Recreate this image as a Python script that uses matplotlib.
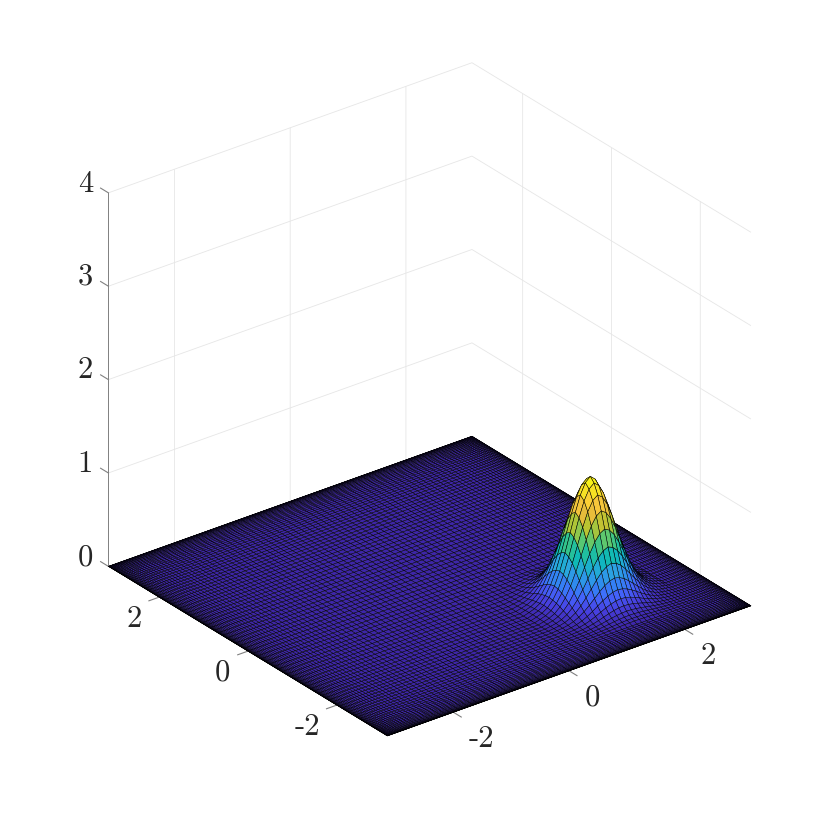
from matplotlib import pyplot as plt
from matplotlib.colors import LinearSegmentedColormap
from mpl_toolkits.mplot3d import proj3d
import numpy as np

# bump sections, one mesh node each, low index to high index
section_x = [0.018, 0.039, 0.077, 0.143, 0.243, 0.383, 0.559, 0.756, 0.953, 1.120, 1.232,
             1.28,
             1.233, 1.130, 0.982, 0.810, 0.641, 0.487, 0.350, 0.246, 0.168, 0.111, 0.072,
             0.046, 0.029, 0.018]
section_y = [0.018, 0.029, 0.046, 0.072, 0.111, 0.168, 0.246, 0.350, 0.487, 0.641, 0.810,
             0.982, 1.130, 1.233,
             1.28,
             1.232, 1.120, 0.953, 0.756, 0.559, 0.383, 0.243, 0.143, 0.077, 0.039, 0.018]
peak_value = 1.28
first_ix = 57
first_iy = 20
n_cells = 102

x_ticks = [-2, 0, 2]
y_ticks = [-2, 0, 2]
z_ticks = [0, 1, 2, 3, 4]
x_labels = ['-2', '0', '2']
y_labels = ['-2', '0', '2']
z_labels = ['0', '1', '2', '3', '4']

parula_colors = ['#3e26a8', '#4740e0', '#4367fd', '#2f89f0', '#2ba5e0', '#0cb8ba', '#2ec38f',
                 '#74c95f', '#b8c431', '#e6bc3a', '#fcc93b', '#f6e620', '#f9fb15']
parula = LinearSegmentedColormap.from_list('parula', parula_colors)

# Chebyshev nodes, the mesh gets dense at the edges
x = -np.pi * np.cos(np.pi * np.arange(n_cells + 1) / n_cells)
y = -np.pi * np.cos(np.pi * np.arange(n_cells + 1) / n_cells)
X, Y = np.meshgrid(x, y)

Z = np.zeros((n_cells + 1, n_cells + 1))
Z[first_iy:first_iy + len(section_y), first_ix:first_ix + len(section_x)] = np.outer(section_y, section_x) / peak_value

fig = plt.figure(figsize=(8.3, 8.27), dpi=100)
ax = fig.add_axes([3.5 / 830, 3 / 827, 1, 1], projection='3d', proj_type='ortho')
ax.view_init(elev=27.8, azim=-127.5)
ax.set_box_aspect((458, 458, 422), zoom=0.908)

ax.plot_surface(X, Y, Z, rstride=1, cstride=1, cmap=parula, vmin=0, vmax=peak_value,
                edgecolor='k', linewidth=0.35, antialiased=True, shade=False)

ax.set_xlim(-np.pi, np.pi, view_margin=0)
ax.set_ylim(-np.pi, np.pi, view_margin=0)
ax.set_zlim(0, 4, view_margin=0)

ax.set_xticks(x_ticks)
ax.set_yticks(y_ticks)
ax.set_zticks(z_ticks)
ax.set_xticklabels([])
ax.set_yticklabels([])
ax.set_zticklabels([])

for axis in [ax.xaxis, ax.yaxis, ax.zaxis]:
    axis.set_pane_color((1, 1, 1, 0))
    axis.pane.set_edgecolor((1, 1, 1, 0))
    axis._axinfo['grid'].update(color='#e6e6e6', linewidth=0.6)
    axis.set_tick_params(color='#808080', width=0.6)
ax.xaxis._axinfo['tick'].update(inward_factor=0.35, outward_factor=0)
ax.yaxis._axinfo['tick'].update(inward_factor=0.35, outward_factor=0)
# z ticks point along y in the reference
ax.zaxis._get_tickdir = lambda pos: 1
ax.zaxis._axinfo['tick'].update(inward_factor=0, outward_factor=0.35)
ax.xaxis.line.set_color((1, 1, 1, 0))
ax.yaxis.line.set_color((1, 1, 1, 0))
ax.zaxis.line.set_color('#808080')
ax.zaxis.line.set_linewidth(0.7)


# tick labels sit further out than mplot3d puts them, so offset them from the tick in pixels
def put_label(text, px, py, pz, dx, dy):
    x2, y2, _ = proj3d.proj_transform(px, py, pz, ax.get_proj())
    ax.annotate(text, xy=(x2, y2), xytext=(dx, dy), textcoords='offset pixels', annotation_clip=False,
                ha='center', va='center', family='cmr10', size=22, color='#262626')


for t, s in zip(x_ticks, x_labels):
    put_label(s, t, -np.pi, 0, 28 if s.startswith('-') else 23, -27)
for t, s in zip(y_ticks, y_labels):
    put_label(s, -np.pi, t, 0, -29 if s.startswith('-') else -25, -22)
for t, s in zip(z_ticks, z_labels):
    put_label(s, -np.pi, np.pi, t, -23, 9)

fig.savefig('out.png', dpi=100)
